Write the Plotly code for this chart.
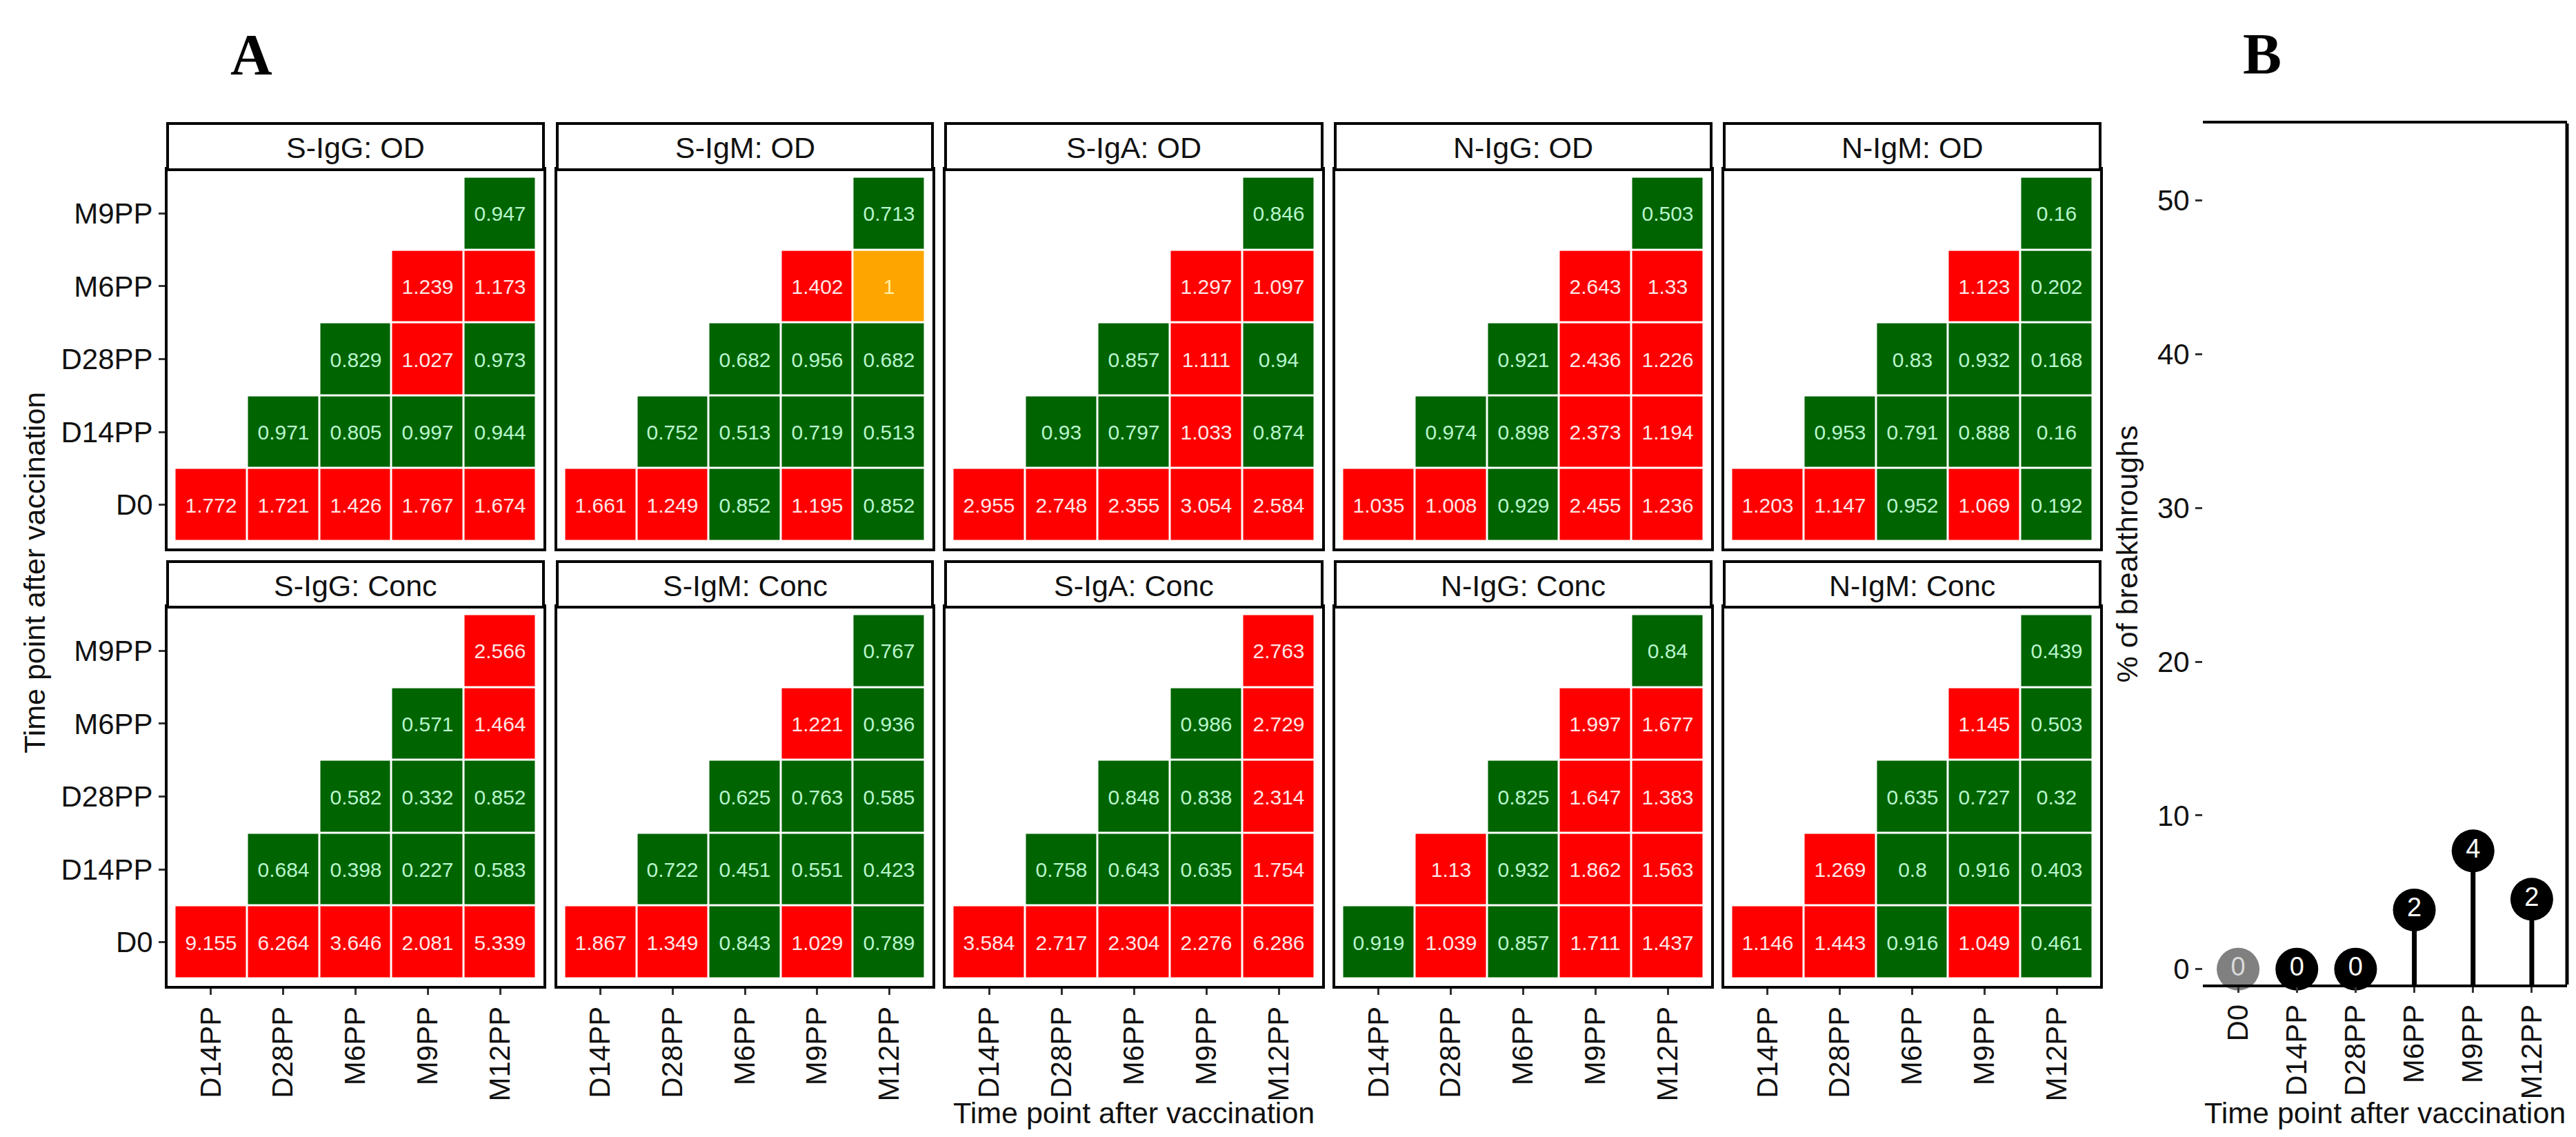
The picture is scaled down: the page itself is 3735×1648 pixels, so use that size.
import plotly.graph_objects as go

# time points
y_points = ["D0", "D14PP", "D28PP", "M6PP", "M9PP"]
x_points = ["D14PP", "D28PP", "M6PP", "M9PP", "M12PP"]

# panel titles, top row (OD) then bottom row (Conc)
panel_names = ["S-IgG: OD", "S-IgM: OD", "S-IgA: OD", "N-IgG: OD", "N-IgM: OD",
               "S-IgG: Conc", "S-IgM: Conc", "S-IgA: Conc", "N-IgG: Conc", "N-IgM: Conc"]

# rows are D0, D14PP, D28PP, M6PP, M9PP; each row starts at the next column
s_igg_od = [[1.772, 1.721, 1.426, 1.767, 1.674], [0.971, 0.805, 0.997, 0.944],
            [0.829, 1.027, 0.973], [1.239, 1.173], [0.947]]
s_igm_od = [[1.661, 1.249, 0.852, 1.195, 0.852], [0.752, 0.513, 0.719, 0.513],
            [0.682, 0.956, 0.682], [1.402, 1.0], [0.713]]
s_iga_od = [[2.955, 2.748, 2.355, 3.054, 2.584], [0.93, 0.797, 1.033, 0.874],
            [0.857, 1.111, 0.94], [1.297, 1.097], [0.846]]
n_igg_od = [[1.035, 1.008, 0.929, 2.455, 1.236], [0.974, 0.898, 2.373, 1.194],
            [0.921, 2.436, 1.226], [2.643, 1.33], [0.503]]
n_igm_od = [[1.203, 1.147, 0.952, 1.069, 0.192], [0.953, 0.791, 0.888, 0.16],
            [0.83, 0.932, 0.168], [1.123, 0.202], [0.16]]
s_igg_conc = [[9.155, 6.264, 3.646, 2.081, 5.339], [0.684, 0.398, 0.227, 0.583],
              [0.582, 0.332, 0.852], [0.571, 1.464], [2.566]]
s_igm_conc = [[1.867, 1.349, 0.843, 1.029, 0.789], [0.722, 0.451, 0.551, 0.423],
              [0.625, 0.763, 0.585], [1.221, 0.936], [0.767]]
s_iga_conc = [[3.584, 2.717, 2.304, 2.276, 6.286], [0.758, 0.643, 0.635, 1.754],
              [0.848, 0.838, 2.314], [0.986, 2.729], [2.763]]
n_igg_conc = [[0.919, 1.039, 0.857, 1.711, 1.437], [1.13, 0.932, 1.862, 1.563],
              [0.825, 1.647, 1.383], [1.997, 1.677], [0.84]]
n_igm_conc = [[1.146, 1.443, 0.916, 1.049, 0.461], [1.269, 0.8, 0.916, 0.403],
              [0.635, 0.727, 0.32], [1.145, 0.503], [0.439]]

panel_data = [s_igg_od, s_igm_od, s_iga_od, n_igg_od, n_igm_od,
              s_igg_conc, s_igm_conc, s_iga_conc, n_igg_conc, n_igm_conc]

# panel B
b_points = ["D0", "D14PP", "D28PP", "M6PP", "M9PP", "M12PP"]
b_percent = [0, 0, 0, 3.85, 7.69, 4.55]
b_counts = [0, 0, 0, 2, 4, 2]

W, H = 3735, 1648
FONT = "Liberation Sans, Arial, sans-serif"
SERIF = "Liberation Serif, Times New Roman, serif"
B_YMIN, B_YMAX = -1.0, 55.0

# fill colour, text colour, test
cats = [
    ("#006400", "#b8f5cc", lambda v: v < 1),
    ("#FFA500", "#fff2a8", lambda v: v == 1),
    ("#FF0000", "#ffe6e6", lambda v: v > 1),
]

col_px = [(235, 780), (800, 1344), (1363, 1909), (1928, 2473), (2492, 3037)]
row_px = [(238, 787), (872, 1421)]
strip_px = [(171, 238), (806, 872)]


def fx(p):
    return p / W


def fy(p):
    return 1 - p / H


def label(text, x, y, size=43, angle=0, family=FONT, color="#111"):
    return dict(text=text, xref="paper", yref="paper", x=fx(x), y=fy(y),
                xanchor="center", yanchor="middle", showarrow=False,
                textangle=angle, font=dict(family=family, size=size, color=color))


fig = go.Figure()
layout = {}
shapes = []
annotations = []

for k, rows in enumerate(panel_data):
    r, c = divmod(k, 5)
    idx = k + 1
    sfx = "" if idx == 1 else str(idx)
    for fill, tcol, test in cats:
        z = [[None] * 5 for _ in range(5)]
        txt = [[""] * 5 for _ in range(5)]
        for j, vals in enumerate(rows):
            for n, v in enumerate(vals):
                i = j + n
                if test(v):
                    z[j][i] = v
                    txt[j][i] = f"{v:g}"
        fig.add_trace(go.Heatmap(
            x=x_points, y=y_points, z=z, text=txt,
            texttemplate="%{text}",
            textfont=dict(family=FONT, size=30, color=tcol),
            colorscale=[[0, fill], [1, fill]], showscale=False,
            xgap=3, ygap=3, hoverinfo="skip",
            xaxis="x" + sfx, yaxis="y" + sfx,
        ))
    x0, x1 = col_px[c]
    y0, y1 = row_px[r]
    layout["xaxis" + sfx] = dict(
        domain=[fx(x0), fx(x1)], anchor="y" + sfx,
        type="category", categoryorder="array", categoryarray=x_points,
        range=[-0.6, 4.6], showgrid=False, zeroline=False,
        showline=True, mirror=True, linecolor="black", linewidth=4,
        ticks="outside" if r == 1 else "", ticklen=9, tickwidth=3, tickcolor="#333",
        showticklabels=(r == 1), tickangle=-90,
        tickfont=dict(family=FONT, size=42, color="#111"),
    )
    layout["yaxis" + sfx] = dict(
        domain=[fy(y1), fy(y0)], anchor="x" + sfx,
        type="category", categoryorder="array", categoryarray=y_points,
        range=[-0.6, 4.6], showgrid=False, zeroline=False,
        showline=True, mirror=True, linecolor="black", linewidth=4,
        ticks="outside" if c == 0 else "", ticklen=9, tickwidth=3, tickcolor="#333",
        showticklabels=(c == 0),
        tickfont=dict(family=FONT, size=42, color="#111"),
    )
    s0, s1 = strip_px[r]
    shapes.append(dict(type="rect", xref="paper", yref="paper",
                       x0=fx(x0), x1=fx(x1), y0=fy(s1), y1=fy(s0),
                       line=dict(color="black", width=4), fillcolor="white"))
    annotations.append(label(panel_names[k], (x0 + x1) / 2, (s0 + s1) / 2 + 2))

# panel B
bx = "x11"
by = "y11"
stem_x, stem_y = [], []
for p, v in zip(b_points, b_percent):
    stem_x += [p, p, None]
    stem_y += [B_YMIN, v, None]
fig.add_trace(go.Scatter(x=stem_x, y=stem_y, mode="lines",
                         line=dict(color="black", width=7),
                         xaxis=bx, yaxis=by, hoverinfo="skip", showlegend=False))
fig.add_trace(go.Scatter(
    x=b_points, y=b_percent, mode="markers+text",
    text=[str(n) for n in b_counts], textposition="middle center",
    textfont=dict(family=FONT, size=38,
                  color=["#d9d9d9"] + ["white"] * (len(b_points) - 1)),
    marker=dict(size=62, color=["#808080"] + ["black"] * (len(b_points) - 1),
                line=dict(width=0)),
    cliponaxis=False, xaxis=bx, yaxis=by, showlegend=False,
))
layout["xaxis11"] = dict(
    domain=[fx(3186), fx(3714)], anchor="y11",
    type="category", categoryorder="array", categoryarray=b_points,
    range=[-0.6, 5.6], showgrid=False, zeroline=False,
    showline=True, mirror=True, linecolor="black", linewidth=4,
    ticks="outside", ticklen=8, tickwidth=3, tickcolor="#333",
    tickangle=-90, tickfont=dict(family=FONT, size=42, color="#111"),
)
layout["yaxis11"] = dict(
    domain=[fy(1419), fy(171)], anchor="x11",
    range=[B_YMIN, B_YMAX], tickvals=[0, 10, 20, 30, 40, 50],
    showgrid=False, zeroline=False, showline=False,
    ticks="outside", ticklen=10, tickwidth=3, tickcolor="#333",
    tickfont=dict(family=FONT, size=42, color="#111"),
    title=dict(text="% of breakthroughs", standoff=14,
               font=dict(family=FONT, size=43, color="#111")),
)
shapes.append(dict(type="line", xref="x11 domain", yref="y11 domain",
                   x0=1, x1=1, y0=0, y1=1, line=dict(color="black", width=5)))

# shared axis titles and panel letters
annotations += [
    label("Time point after vaccination", 1636, 1605),
    label("Time point after vaccination", 3450, 1605),
    label("Time point after vaccination", 42, 822, angle=-90),
    label("<b>A</b>", 356, 72, size=84, family=SERIF, color="black"),
    label("<b>B</b>", 3272, 70, size=84, family=SERIF, color="black"),
]

fig.update_layout(
    width=W, height=H, margin=dict(l=0, r=0, t=0, b=0),
    paper_bgcolor="white", plot_bgcolor="white",
    showlegend=False, shapes=shapes, annotations=annotations,
    **layout,
)

fig.write_html("out.html")
